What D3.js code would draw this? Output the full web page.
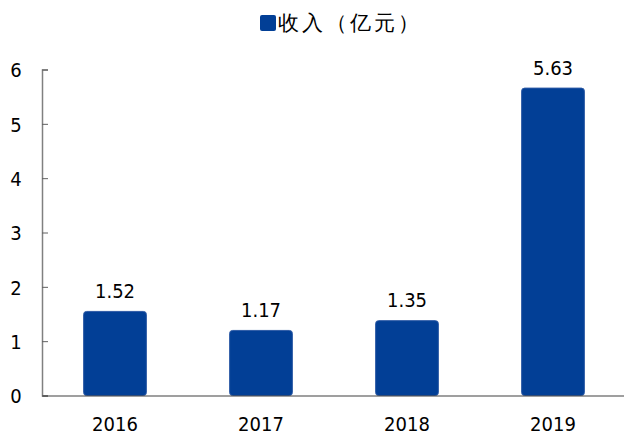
<!DOCTYPE html>
<html>
<head>
<meta charset="utf-8">
<script src="https://cdn.jsdelivr.net/npm/d3@7"></script>
<style>
  body { margin: 0; background: #fff; }
  text { font-family: "DejaVu Sans Condensed", "DejaVu Sans", sans-serif; }
</style>
</head>
<body>
<div id="chart"></div>
<script>
var years = ["2016", "2017", "2018", "2019"];
var revenue = [1.52, 1.17, 1.35, 5.63];
var yTicks = [0, 1, 2, 3, 4, 5, 6];
var seriesName = "收入（亿元）";

var svg_Width = 624;
var svg_Height = 436;
var margin = { top: 69.5, left: 42 };
var chart_Height = 326;
var chart_Width = 584;

var svg = d3.select("#chart")
  .append("svg")
  .attr("width", svg_Width)
  .attr("height", svg_Height);

var chartGroup = svg.append("g")
  .attr("transform", "translate(" + margin.left + "," + margin.top + ")");

var xScale = d3.scaleBand().domain(years).range([0, chart_Width]).paddingInner(0.57).paddingOuter(0.285);
var yScale = d3.scaleLinear().domain([0, 6]).range([chart_Height, 0]);

// bars
chartGroup.selectAll("rect.bar")
  .data(revenue)
  .enter()
  .append("rect")
  .attr("class", "bar")
  .attr("x", function(d, i) { return xScale(years[i]); })
  .attr("y", function(d) { return yScale(d) - 1.5; })
  .attr("width", xScale.bandwidth())
  .attr("height", function(d) { return chart_Height - yScale(d) + 1.5; })
  .attr("rx", 3)
  .attr("fill", "#023f96")
  .attr("stroke", "#2d5aa6")
  .attr("stroke-width", 1);

// value labels
chartGroup.selectAll("text.val")
  .data(revenue)
  .enter()
  .append("text")
  .attr("class", "val")
  .attr("x", function(d, i) { return xScale(years[i]) + xScale.bandwidth() / 2; })
  .attr("y", function(d) { return yScale(d) - 15; })
  .attr("text-anchor", "middle")
  .attr("font-size", "20px")
  .attr("fill", "#000")
  .text(function(d) { return d.toFixed(2); });

// y axis
var leftAxis = d3.axisRight(yScale).tickValues(yTicks).tickSize(6).tickFormat(d3.format("d"));
var yAxis = chartGroup.append("g").call(leftAxis);
yAxis.select(".domain").attr("stroke", "#808080").attr("stroke-width", 1.5);
yAxis.selectAll(".tick line").attr("stroke", "#606060");
yAxis.selectAll(".tick text")
  .attr("x", -26)
  .attr("dy", "0.36em")
  .attr("text-anchor", "middle")
  .attr("font-size", "20px")
  .attr("fill", "#000");

// x axis
var bottomAxis = d3.axisBottom(xScale).tickSize(0).tickPadding(21);
var xAxis = chartGroup.append("g")
  .attr("transform", "translate(0," + chart_Height + ")")
  .call(bottomAxis);
xAxis.select(".domain").attr("stroke", "#404040").attr("stroke-width", 1.2);
xAxis.selectAll(".tick text")
  .attr("font-size", "20px")
  .attr("fill", "#000");

// legend
var legend = svg.append("g").attr("transform", "translate(260,15)");
legend.append("rect")
  .attr("width", 16)
  .attr("height", 16)
  .attr("rx", 2)
  .attr("fill", "#023f96");
legend.append("text")
  .attr("x", 18)
  .attr("y", 15)
  .attr("font-size", "21px")
  .attr("font-family", "Noto Sans CJK SC")
  .attr("letter-spacing", "3px")
  .attr("fill", "#000")
  .text(seriesName);
</script>
</body>
</html>
